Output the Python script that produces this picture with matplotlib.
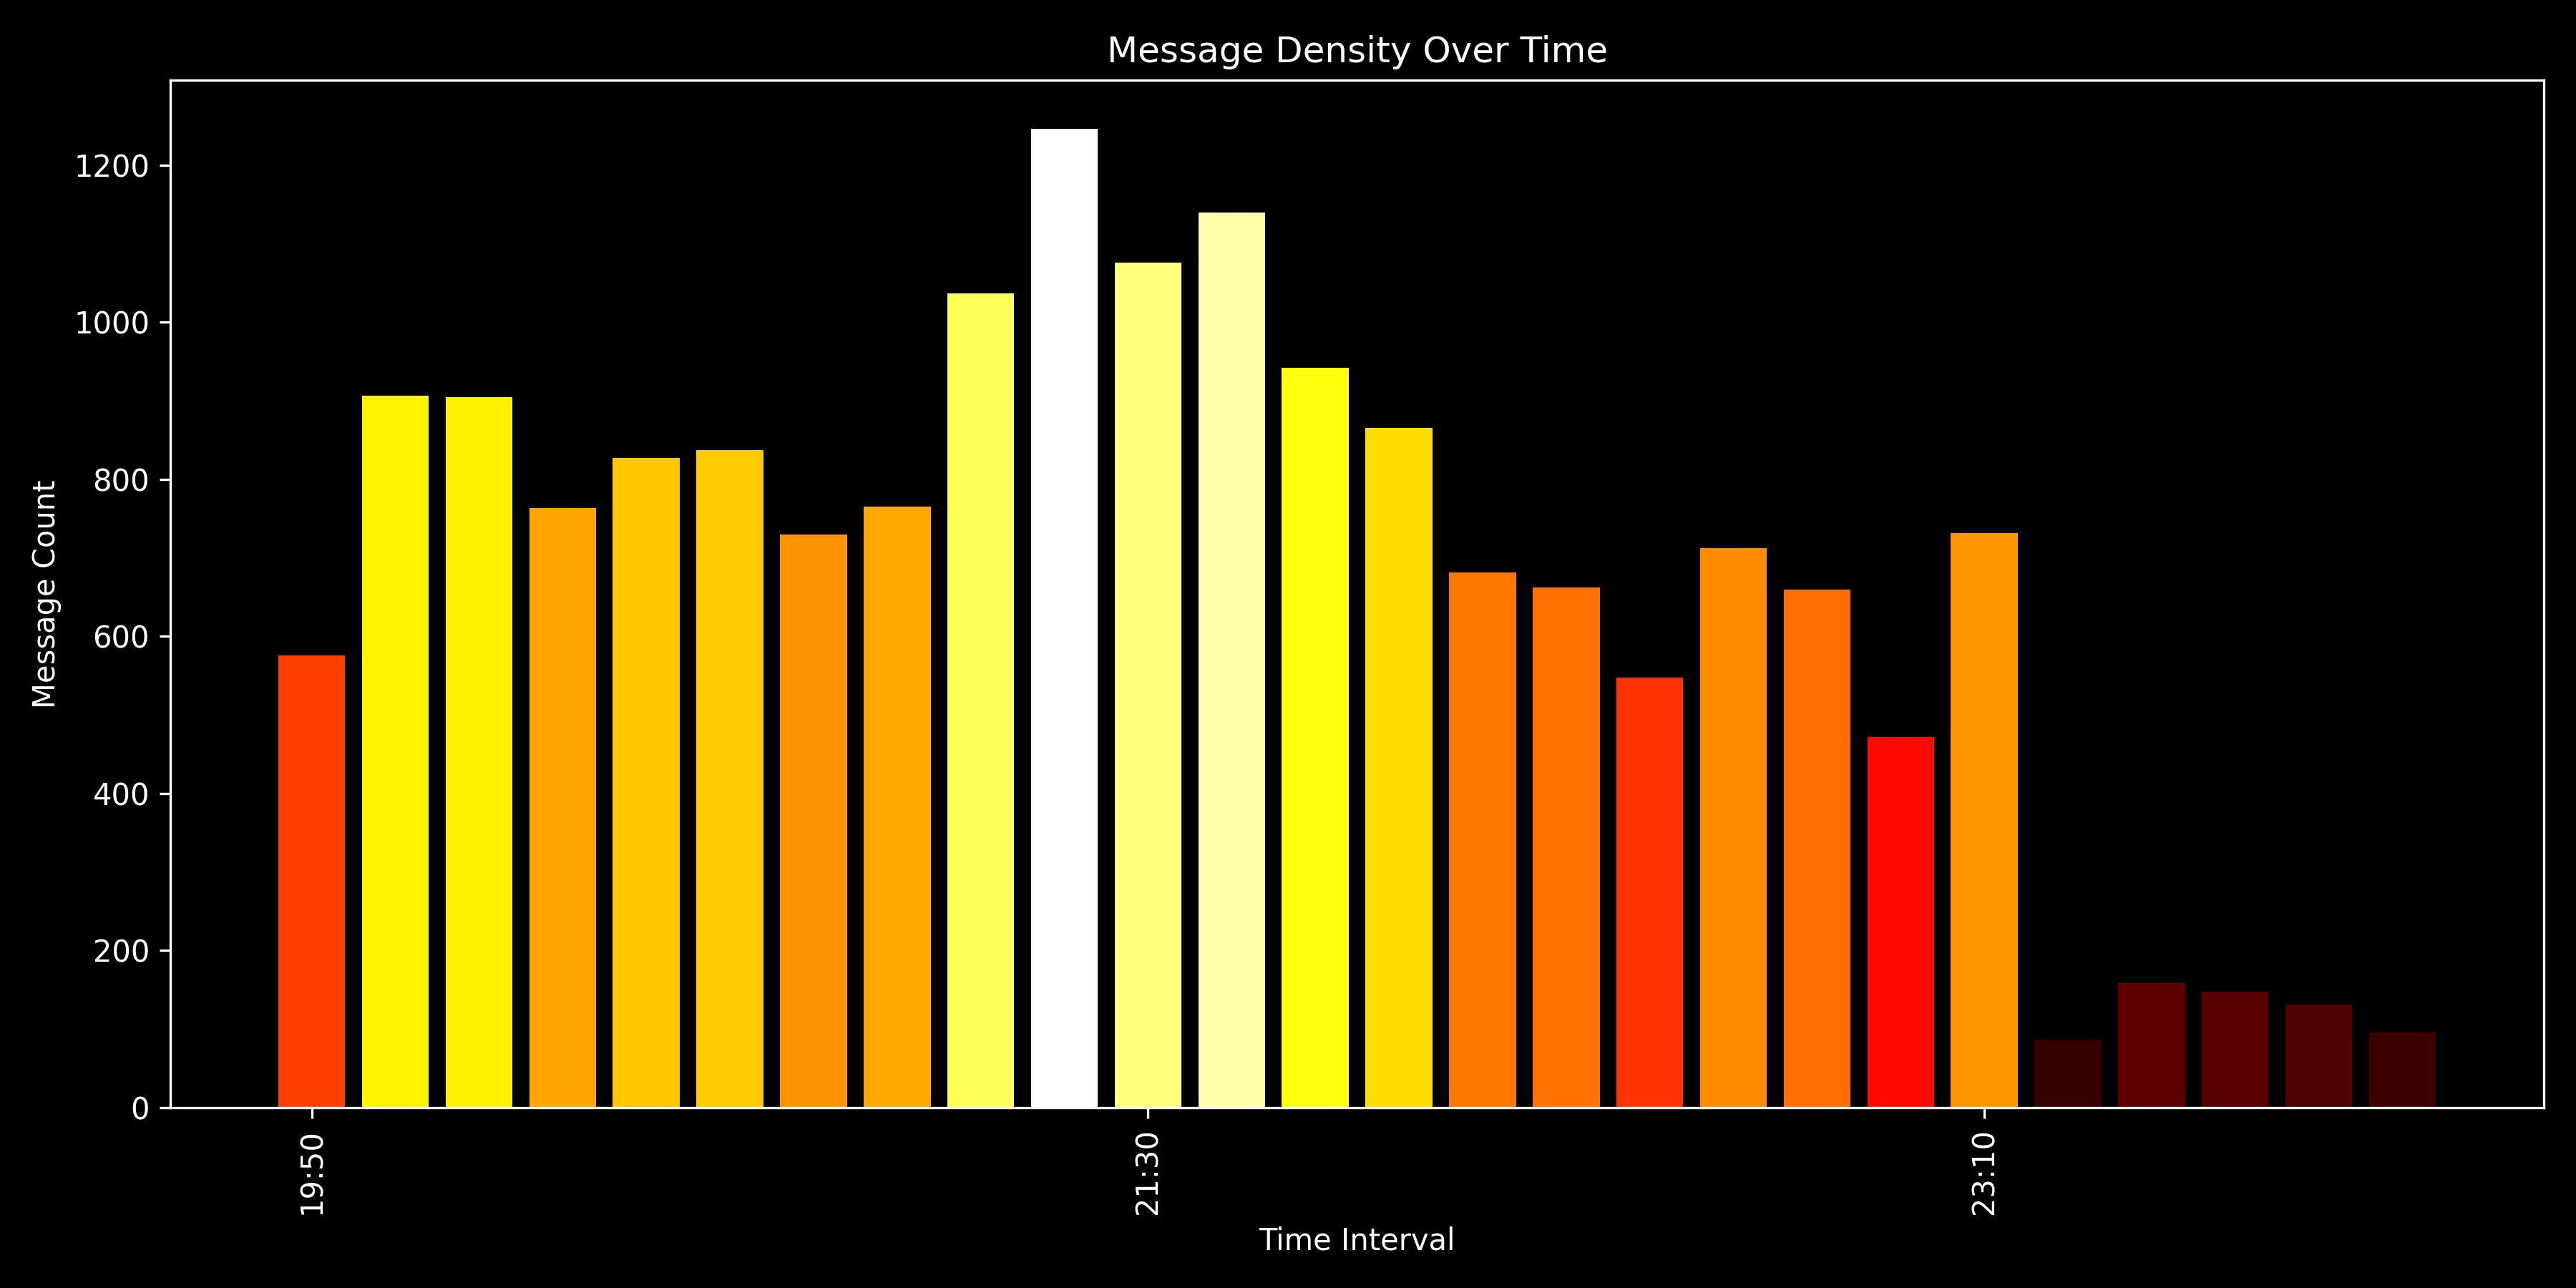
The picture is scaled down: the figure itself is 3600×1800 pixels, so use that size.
import numpy as np
import matplotlib
matplotlib.use("Agg")
import matplotlib.pyplot as plt

# message counts per 10 minute interval, starting 19:50
times = ["19:50", "20:00", "20:10", "20:20", "20:30", "20:40", "20:50", "21:00",
         "21:10", "21:20", "21:30", "21:40", "21:50", "22:00", "22:10", "22:20",
         "22:30", "22:40", "22:50", "23:00", "23:10", "23:20", "23:30", "23:40",
         "23:50", "00:00"]
counts = [576, 906, 905, 763, 827, 837, 730, 765, 1037, 1246, 1076, 1140, 942,
          865, 681, 662, 547, 712, 659, 472, 731, 86, 158, 147, 131, 95]

plt.style.use("dark_background")
fig, ax = plt.subplots(figsize=(12, 6))

vals = np.array(counts)
colors = plt.cm.hot(vals / vals.max())
x = np.arange(len(times))
ax.bar(x, vals, color=colors)

tick_idx = x[::10]
ax.set_xticks(tick_idx)
ax.set_xticklabels([times[i] for i in tick_idx], rotation=90)

ax.set_title("Message Density Over Time")
ax.set_xlabel("Time Interval")
ax.set_ylabel("Message Count")

plt.tight_layout()
plt.savefig("out.png", dpi=300)
